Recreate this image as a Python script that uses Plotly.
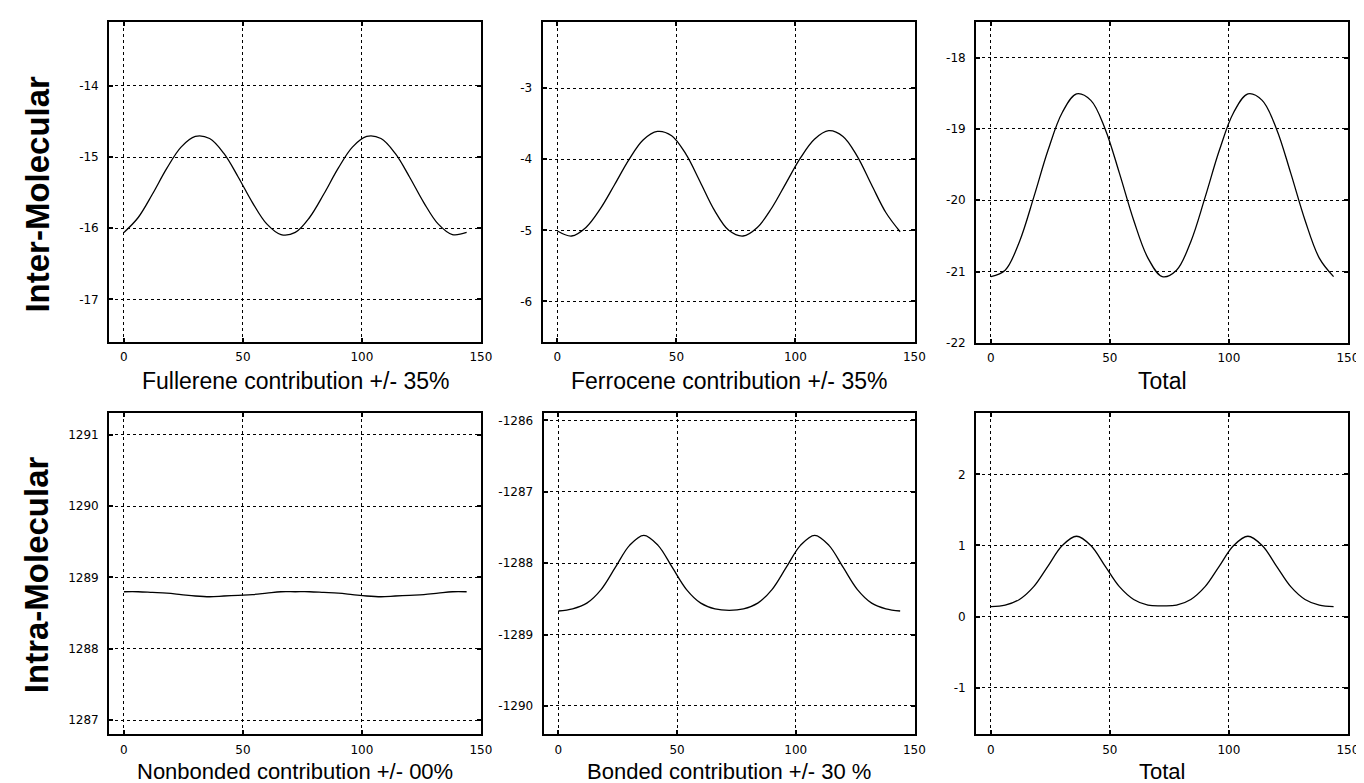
import plotly.graph_objects as go

# ---------------- data ----------------
angle = [0, 6, 12, 18, 24, 30, 36, 42, 48, 54, 60, 66, 72,
         78, 84, 90, 96, 102, 108, 114, 120, 126, 132, 138, 144]

fullerene = [-16.06, -15.85, -15.52, -15.16, -14.86, -14.71, -14.74, -14.95, -15.28,
             -15.64, -15.94, -16.09, -16.06, -15.85, -15.52, -15.16, -14.86, -14.71,
             -14.74, -14.95, -15.28, -15.64, -15.94, -16.09, -16.06]

ferrocene = [-5.01, -5.08, -4.96, -4.70, -4.36, -4.01, -3.73, -3.61, -3.67,
             -3.93, -4.32, -4.72, -5.00, -5.08, -4.96, -4.69, -4.34, -3.99,
             -3.72, -3.60, -3.68, -3.96, -4.36, -4.75, -5.02]

inter_total = [-21.07, -20.98, -20.58, -19.96, -19.30, -18.77, -18.51, -18.60, -19.00,
               -19.62, -20.28, -20.81, -21.07, -20.98, -20.58, -19.96, -19.30, -18.77,
               -18.51, -18.60, -19.00, -19.62, -20.28, -20.81, -21.07]

nonbonded = [1288.80, 1288.80, 1288.79, 1288.78, 1288.76, 1288.74, 1288.73, 1288.74, 1288.75,
             1288.76, 1288.78, 1288.80, 1288.80, 1288.80, 1288.79, 1288.78, 1288.76, 1288.74,
             1288.73, 1288.74, 1288.75, 1288.76, 1288.78, 1288.80, 1288.80]

bonded = [-1288.67, -1288.64, -1288.56, -1288.37, -1288.06, -1287.75, -1287.61, -1287.75, -1288.06,
          -1288.37, -1288.56, -1288.64, -1288.66, -1288.64, -1288.56, -1288.37, -1288.06, -1287.75,
          -1287.61, -1287.75, -1288.06, -1288.37, -1288.56, -1288.64, -1288.67]

intra_total = [0.14, 0.16, 0.24, 0.42, 0.71, 1.00, 1.13, 1.00, 0.71,
               0.42, 0.24, 0.16, 0.15, 0.16, 0.24, 0.42, 0.71, 1.00,
               1.13, 1.00, 0.71, 0.42, 0.24, 0.16, 0.14]

x_ticks = [0, 50, 100, 150]

panel_titles = ["Fullerene contribution +/- 35%", "Ferrocene contribution +/- 35%", "Total",
                "Nonbonded contribution +/- 00%", "Bonded contribution +/- 30 %", "Total"]
row_labels = ["Inter-Molecular", "Intra-Molecular"]

series = [fullerene, ferrocene, inter_total, nonbonded, bonded, intra_total]
y_ticks = [[-17, -16, -15, -14],
           [-6, -5, -4, -3],
           [-22, -21, -20, -19, -18],
           [1287, 1288, 1289, 1290, 1291],
           [-1290, -1289, -1288, -1287, -1286],
           [-1, 0, 1, 2]]
y_ranges = [[-17.6, -13.1], [-6.57, -2.07], [-22.0, -17.5],
            [1286.8, 1291.3], [-1290.4, -1285.9], [-1.66, 2.86]]

# ---------------- layout geometry (pixels) ----------------
W, H = 1364, 783
boxes = [  # left, right, top, bottom
    (102, 477, 14, 337), (539, 914, 14, 337), (976, 1351, 14, 338),
    (102, 477, 409, 733), (540, 914, 409, 733), (976, 1351, 409, 733),
]

fig = go.Figure()
layout = dict(width=W, height=H, margin=dict(l=0, r=0, t=0, b=0),
              paper_bgcolor="white", plot_bgcolor="white", showlegend=False,
              font=dict(family="Liberation Sans, Arial, sans-serif", color="black"))

annotations = []
for i, (ys, (l, r, t, b)) in enumerate(zip(series, boxes)):
    n = i + 1
    xa = "xaxis" if n == 1 else f"xaxis{n}"
    ya = "yaxis" if n == 1 else f"yaxis{n}"
    xref = "x" if n == 1 else f"x{n}"
    yref = "y" if n == 1 else f"y{n}"
    fig.add_trace(go.Scatter(x=angle, y=ys, mode="lines", xaxis=xref, yaxis=yref,
                             line=dict(color="black", width=1.3, shape="spline", smoothing=1.0),
                             hoverinfo="skip"))
    common = dict(showline=True, linecolor="black", linewidth=2, mirror="ticks",
                  showgrid=True, gridcolor="black", gridwidth=1, griddash="dot",
                  zeroline=False, ticks="inside", ticklen=4, tickcolor="black", tickwidth=1.5,
                  tickfont=dict(size=12, color="black", family="DejaVu Sans"))
    layout[xa] = dict(common, domain=[l / W, r / W], anchor=yref, range=[-6.2, 150.1],
                      tickmode="array", tickvals=x_ticks,
                      ticktext=[str(v) for v in x_ticks], ticklabelstandoff=3)
    layout[ya] = dict(common, domain=[1 - b / H, 1 - t / H], anchor=xref, range=y_ranges[i],
                      tickmode="array", tickvals=y_ticks[i],
                      ticktext=[str(v) for v in y_ticks[i]], ticklabelstandoff=6)
    cy = 376 if i < 3 else 770
    annotations.append(dict(text=panel_titles[i], x=(l + r) / 2 / W, y=1 - cy / H,
                            xref="paper", yref="paper", showarrow=False,
                            xanchor="center", yanchor="middle",
                            font=dict(size=22 if i >= 3 else 23, color="black",
                                      family="Liberation Sans, Arial")))

for lbl, cy in zip(row_labels, [188, 572]):
    annotations.append(dict(text=f"<b>{lbl}</b>", x=29.5 / W, y=1 - cy / H,
                            xref="paper", yref="paper", showarrow=False, textangle=-90,
                            xanchor="center", yanchor="middle",
                            font=dict(size=33, color="black", family="Liberation Sans, Arial")))

layout["annotations"] = annotations
fig.update_layout(**layout)
fig.write_html("out.html")
